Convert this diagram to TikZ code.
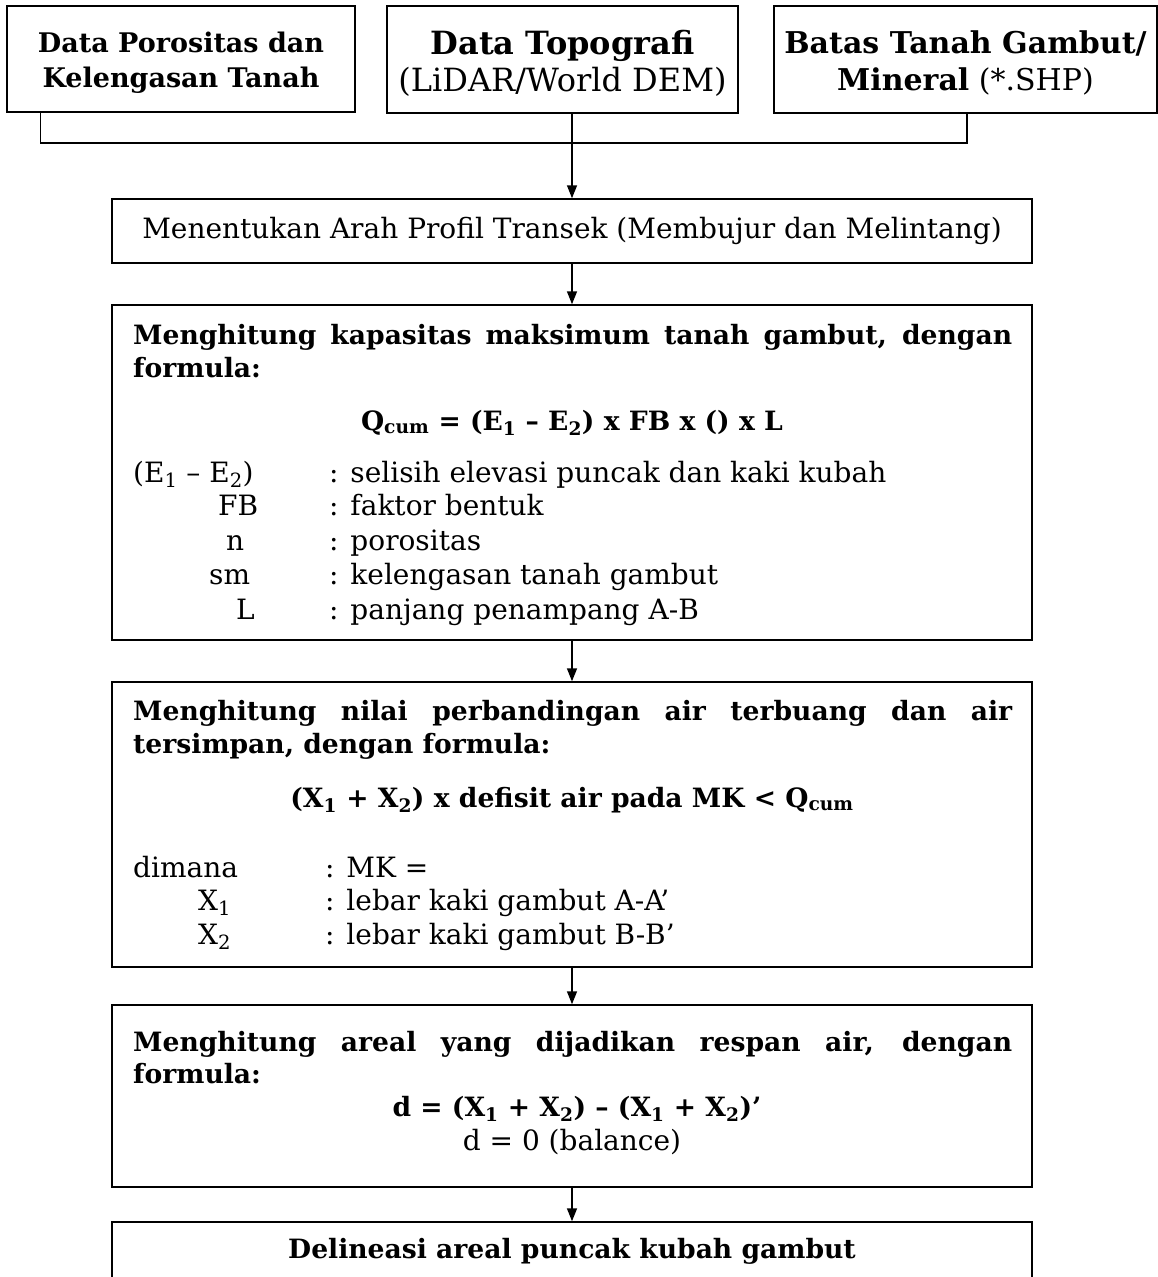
\documentclass[tikz,border=0pt]{standalone}
\usepackage{fontspec}
\setmainfont{DejaVu Serif}
\usetikzlibrary{arrows.meta}
\newcommand{\nfont}{\fontsize{28}{34}\selectfont}
\newcommand{\bfont}{\fontsize{26.6}{34}\selectfont\bfseries}
\tikzset{
  box/.style={draw, line width=1.5pt, inner sep=0pt, minimum width=920pt, font=\nfont},
  topbox/.style={draw, line width=1.5pt, inner sep=0pt, align=center},
  conn/.style={line width=1.5pt},
  arr/.style={line width=1.5pt, -{Triangle[length=13pt,width=10pt]}},
  txt/.style={inner sep=0pt, text height=20pt, text depth=6pt, font=\nfont},
  btxt/.style={txt, font=\bfont},
}
\begin{document}
\begin{tikzpicture}[x=1pt,y=-1pt]
\useasboundingbox (0,0) rectangle (1158,1277);
% top boxes
\node[topbox, minimum width=348pt, minimum height=106pt, font=\fontsize{27}{35}\selectfont] (A) at (181,59)
  {\rule{0pt}{27pt}\textbf{Data Porositas dan}\\\textbf{Kelengasan Tanah}};
\node[topbox, minimum width=351pt, minimum height=107pt, font=\fontsize{32}{37}\selectfont] (B) at (562.5,59.5)
  {\rule{0pt}{31pt}\textbf{Data Topografi}\\(LiDAR/World DEM)};
\node[topbox, minimum width=383pt, minimum height=107pt, font=\fontsize{30}{37}\selectfont] (C) at (965.5,59.5)
  {\rule{0pt}{29pt}\textbf{Batas Tanah Gambut/}\\\textbf{Mineral} (*.SHP)};
% main boxes
\node[box, minimum height=64pt] (b2) at (572,231)
  {Menentukan Arah Profil Transek (Membujur dan Melintang)};
\node[box, minimum height=335pt] (b3) at (572,472.5) {};
\node[box, minimum height=285pt] (b4) at (572,824.5) {};
\node[box, minimum height=182pt] (b5) at (572,1096) {};
\node[box, minimum height=58pt, font=\bfont] (b6) at (572,1251)
  {Delineasi areal puncak kubah gambut};
% connectors
\coordinate (jR) at (967,143);
\draw[conn] ([xshift=34pt]A.south west) |- (jR) -- (jR |- C.south);
\draw[arr] (b2.north |- B.south) -- (b2.north);
\draw[arr] (b2.south) -- (b3.north);
\draw[arr] (b3.south) -- (b4.north);
\draw[arr] (b4.south) -- (b5.north);
\draw[arr] (b5.south) -- (b6.north);
% box 3 text
\node[btxt, anchor=west] (t3a) at (133,337) {\makebox[879pt][s]{Menghitung kapasitas maksimum tanah gambut, dengan}};
\node[btxt, anchor=west] (t3b) at (133,370) {formula:};
\node[btxt] (f3) at (572,423) {Q\textsubscript{cum} = (E\textsubscript{1} – E\textsubscript{2}) x FB x () x L};
\node[txt, anchor=west] (l1) at (133,475) {(E\textsubscript{1} – E\textsubscript{2})};
\node[txt, anchor=west] (l2) at (218,508) {FB};
\node[txt, anchor=west] (l3) at (226,543) {n};
\node[txt, anchor=west] (l4) at (209,577) {sm};
\node[txt, anchor=west] (l5) at (236,612) {L};
\node[txt, anchor=west] (d1) at (329,475) {: selisih elevasi puncak dan kaki kubah};
\node[txt, anchor=west] (d2) at (329,508) {: faktor bentuk};
\node[txt, anchor=west] (d3) at (329,543) {: porositas};
\node[txt, anchor=west] (d4) at (329,577) {: kelengasan tanah gambut};
\node[txt, anchor=west] (d5) at (329,612) {: panjang penampang A-B};
% box 4 text
\node[btxt, anchor=west] (t4a) at (133,713) {\makebox[879pt][s]{Menghitung nilai perbandingan air terbuang dan air}};
\node[btxt, anchor=west] (t4b) at (133,746) {tersimpan, dengan formula:};
\node[btxt] (f4) at (572,800) {(X\textsubscript{1} + X\textsubscript{2}) x defisit air pada MK < Q\textsubscript{cum}};
\node[txt, anchor=west] (m1) at (133,870) {dimana};
\node[txt, anchor=west] (m2) at (198,903) {X\textsubscript{1}};
\node[txt, anchor=west] (m3) at (198,937) {X\textsubscript{2}};
\node[txt, anchor=west] (e1) at (325,870) {: MK =};
\node[txt, anchor=west] (e2) at (325,903) {: lebar kaki gambut A-A’};
\node[txt, anchor=west] (e3) at (325,937) {: lebar kaki gambut B-B’};
% box 5 text
\node[btxt, anchor=west] (t5a) at (133,1044) {\makebox[879pt][s]{Menghitung areal yang dijadikan respan air, dengan}};
\node[btxt, anchor=west] (t5b) at (133,1076) {formula:};
\node[btxt] (f5) at (577,1109) {d = (X\textsubscript{1} + X\textsubscript{2}) – (X\textsubscript{1} + X\textsubscript{2})’};
\node[txt] (f5b) at (572,1143) {d = 0 (balance)};
\end{tikzpicture}
\end{document}
